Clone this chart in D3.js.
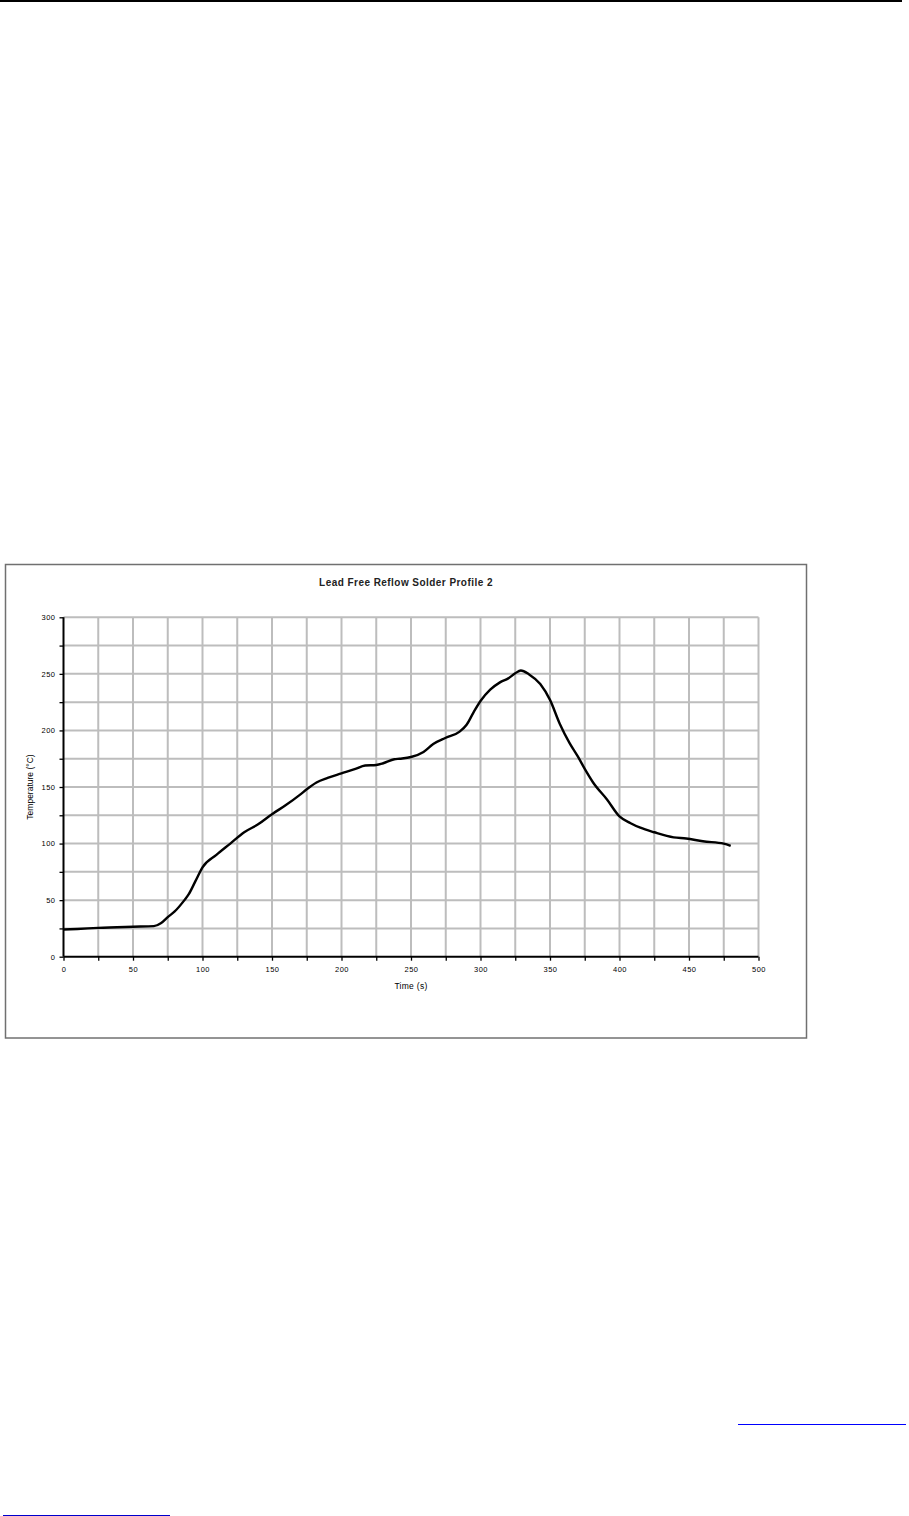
<!DOCTYPE html>
<html>
<head>
<meta charset="utf-8">
<script src="https://cdn.jsdelivr.net/npm/d3@7"></script>
<style>
  html, body { margin: 0; padding: 0; background: #fff; }
  svg { display: block; }
  text { font-family: "Liberation Sans", Arial, sans-serif; }
</style>
</head>
<body>
<script>
// ---- data ----
const timeSec = [0,10,25,50,65,70,75,80,87,90,95,100,110,120,130,140,150,160,170,175,182,190,200,210,217,225,230,238,242,250,259,266,275,285,290,295,300,307,314,320,325,329,335,343,350,357,364,370,375,381,391,400,408,415,425,439,448,460,475,480];
const tempC   = [24,24.5,25.5,26.5,27,29.5,35,40,50,55,67,79,90,100,110,117,126,134,143,148,154,158,162,166,169,169.5,171,174.5,175,176.5,181,188,193.5,199,205,216,226,236,242.5,246,250.5,253,249.5,241,227,206,189,177,166,154,139,124,118,114,110,105.5,104.5,102,100,98];
const xTicks = [0,50,100,150,200,250,300,350,400,450,500];
const yTicks = [0,50,100,150,200,250,300];
const gridStep = 25;
const title = "Lead Free Reflow Solder Profile 2";
const xTitle = "Time (s)";
const yTitle = "Temperature (\u00B0C)";

const W = 909, H = 1516;
const svg = d3.select("body").append("svg").attr("width", W).attr("height", H);

// page decorations
svg.append("line").attr("x1", 0).attr("x2", 902).attr("y1", 1).attr("y2", 1)
  .attr("stroke", "#000").attr("stroke-width", 2);
svg.append("line").attr("x1", 738).attr("x2", 906).attr("y1", 1424.5).attr("y2", 1424.5)
  .attr("stroke", "#0000ff").attr("stroke-width", 1);
svg.append("line").attr("x1", 3).attr("x2", 170).attr("y1", 1515.5).attr("y2", 1515.5)
  .attr("stroke", "#0000cc").attr("stroke-width", 1);

// chart frame
svg.append("rect").attr("x", 5.5).attr("y", 564.5).attr("width", 801).attr("height", 473.5)
  .attr("fill", "#fff").attr("stroke", "#707070").attr("stroke-width", 1.5);

const x = d3.scaleLinear().domain([0, 500]).range([63.5, 758.5]);
const y = d3.scaleLinear().domain([0, 300]).range([956.7, 617.3]);

// grid
const gx = d3.range(gridStep, 500 + 1, gridStep);
const gy = d3.range(gridStep, 300 + 1, gridStep);
const grid = svg.append("g").attr("stroke", "#bdbdbd").attr("stroke-width", 2);
grid.selectAll("line.v").data(gx).join("line").attr("class", "v")
  .attr("x1", d => x(d)).attr("x2", d => x(d)).attr("y1", y(0)).attr("y2", y(300));
grid.selectAll("line.h").data(gy).join("line").attr("class", "h")
  .attr("x1", x(0)).attr("x2", x(500)).attr("y1", d => y(d)).attr("y2", d => y(d));

// axes
const xAxis = d3.axisBottom(x).tickValues(d3.range(0, 501, gridStep)).tickSize(4)
  .tickFormat(d => xTicks.includes(d) ? d : "");
const yAxis = d3.axisLeft(y).tickValues(d3.range(0, 301, gridStep)).tickSize(4)
  .tickFormat(d => yTicks.includes(d) ? d : "");

const gX = svg.append("g").attr("transform", `translate(0,${y(0)})`).call(xAxis);
const gY = svg.append("g").attr("transform", `translate(${x(0)},0)`).call(yAxis);
[gX, gY].forEach(g => {
  g.select(".domain").attr("stroke", "#000").attr("stroke-width", 2);
  g.selectAll(".tick line").attr("stroke", "#000").attr("stroke-width", 1.3);
  g.selectAll(".tick text").attr("fill", "#000").attr("font-size", 7.5)
    .attr("letter-spacing", 0.5).attr("font-family", "'Liberation Sans', Arial, sans-serif");
});
gX.select(".domain").attr("d", `M${x(0)},0H${x(500)}`);
gY.select(".domain").attr("d", `M0,${y(0)}V${y(300)}`);
gX.selectAll(".tick text").attr("y", 10);
gY.selectAll(".tick text").attr("x", -8);

// line
const line = d3.line().x((d, i) => x(timeSec[i])).y(d => y(d)).curve(d3.curveMonotoneX);
svg.append("path").datum(tempC).attr("d", line)
  .attr("fill", "none").attr("stroke", "#000").attr("stroke-width", 2.4)
  .attr("stroke-linejoin", "round").attr("stroke-linecap", "butt");

// titles
svg.append("text").attr("x", 406).attr("y", 586).attr("text-anchor", "middle")
  .attr("font-size", 10).attr("font-weight", "bold").attr("letter-spacing", 0.45)
  .attr("fill", "#222").text(title);
svg.append("text").attr("x", 411).attr("y", 989).attr("text-anchor", "middle")
  .attr("font-size", 8.5).attr("letter-spacing", 0.3).attr("fill", "#000").text(xTitle);
svg.append("text").attr("transform", "translate(33,787) rotate(-90)").attr("text-anchor", "middle")
  .attr("font-size", 8.5).attr("fill", "#000").text(yTitle);
</script>
</body>
</html>
